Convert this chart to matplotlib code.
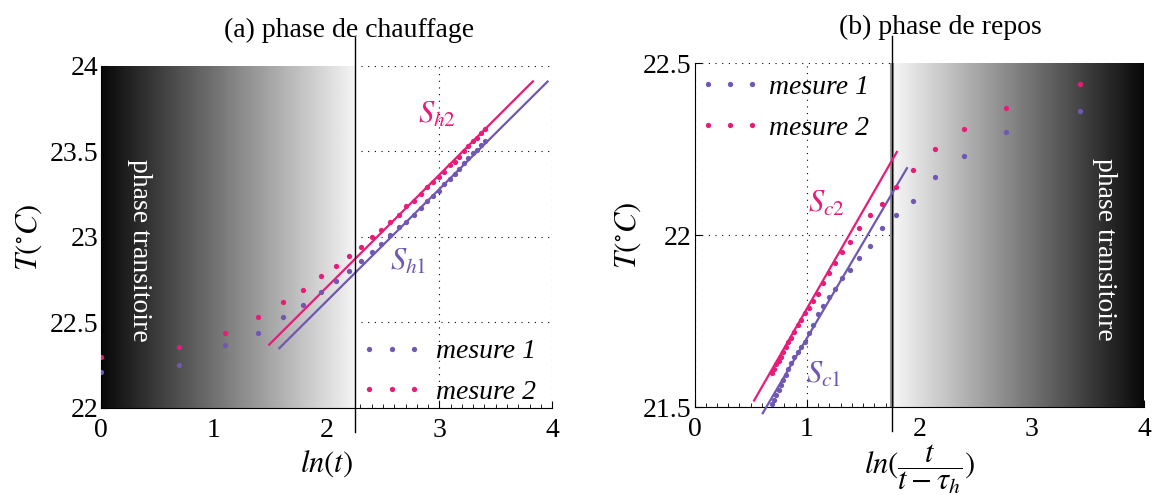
import numpy as np
import matplotlib
matplotlib.use('Agg')
import matplotlib.pyplot as plt

plt.rcParams['font.family'] = ['Liberation Serif', 'DejaVu Serif']
plt.rcParams['mathtext.fontset'] = 'stix'

# couleurs
c1 = '#6f57b3'  # mesure 1
c2 = '#e81c78'  # mesure 2

# (a) phase de chauffage : t = 1..30, abscisse ln(t)
t_chauffe = np.arange(1, 31)
T1_chauffe = [22.21, 22.25, 22.37, 22.44, 22.53, 22.60, 22.68, 22.74, 22.80,
              22.86, 22.91, 22.96, 23.01, 23.06, 23.09, 23.13, 23.17, 23.21,
              23.24, 23.27, 23.31, 23.34, 23.37, 23.40, 23.43, 23.46, 23.49,
              23.51, 23.54, 23.56]
T2_chauffe = [22.30, 22.355, 22.44, 22.53, 22.62, 22.69, 22.77, 22.83, 22.89,
              22.94, 23.00, 23.04, 23.09, 23.13, 23.18, 23.21, 23.25, 23.29,
              23.32, 23.35, 23.38, 23.42, 23.44, 23.47, 23.50, 23.53, 23.56,
              23.58, 23.61, 23.63]
# droites S_h1, S_h2 : (ordonnée à l'origine, pente, x début, x fin)
Sh1 = (21.315, 0.655, 1.58, 3.96)
Sh2 = (21.39, 0.658, 1.49, 3.83)
lim_a = 2.25  # fin de la phase transitoire

# (b) phase de repos : t - tau_h = 1..30, abscisse ln(t/(t-tau_h))
tau_h = 30
k_repos = np.arange(1, 31)
T1_repos = [22.36, 22.30, 22.23, 22.17, 22.10, 22.06, 22.02, 21.97, 21.935,
            21.90, 21.875, 21.845, 21.82, 21.795, 21.77, 21.74, 21.715, 21.69,
            21.675, 21.66, 21.645, 21.63, 21.61, 21.595, 21.58, 21.565, 21.55,
            21.535, 21.52, 21.51]
T2_repos = [22.44, 22.37, 22.31, 22.25, 22.19, 22.14, 22.09, 22.06, 22.02,
            21.98, 21.95, 21.92, 21.89, 21.86, 21.83, 21.81, 21.79, 21.775,
            21.755, 21.74, 21.72, 21.70, 21.69, 21.675, 21.66, 21.645, 21.635,
            21.625, 21.61, 21.60]
Sc1 = (21.146, 0.555, 0.607, 1.89)
Sc2 = (21.218, 0.569, 0.53, 1.80)
lim_b = 1.76

fs = 20

fig = plt.figure(figsize=(11.56, 4.95), dpi=100)
ax1 = fig.add_axes([0.0876, 0.1758, 0.390, 0.691])
ax2 = fig.add_axes([0.6008, 0.1772, 0.3889, 0.695])


def droite(ax, S, color):
    b, a, x0, x1 = S
    xs = np.array([x0, x1])
    ax.plot(xs, b + a * xs, color=color, lw=1.6, zorder=4, clip_on=False)


def habillage(ax, ylim, yticks, ylabels, lpad):
    ax.set_xlim(0, 4)
    ax.set_ylim(*ylim)
    ax.set_xticks([0, 1, 2, 3, 4])
    ax.set_xticks(np.arange(0, 4.01, 0.1), minor=True)
    ax.set_yticks(yticks)
    ax.set_yticklabels(ylabels)
    ax.tick_params(direction='in', labelsize=fs, length=5, pad=2)
    ax.tick_params(which='minor', direction='in', length=3)
    ax.tick_params(axis='x', pad=7)
    for s in ['top', 'right']:
        ax.spines[s].set_visible(False)
    ax.set_axisbelow(True)
    ax.grid(True, ls=(0, (1, 5)), color='k', lw=0.8)
    ax.set_ylabel(r'$T(^{\circ}C)$', fontsize=fs + 2, labelpad=lpad)


# ---- (a)
habillage(ax1, (22, 24), [22, 22.5, 23, 23.5, 24], ['22', '22.5', '23', '23.5', '24'], 4)
grad = np.linspace(0.03, 0.96, 256).reshape(1, -1)
ax1.imshow(grad, cmap='gray', vmin=0, vmax=1, aspect='auto',
           extent=[0, lim_a, 22, 24], zorder=1)
x_a = np.log(t_chauffe)
ax1.plot(x_a, T1_chauffe, 'o', ms=3.8, mew=0, color=c1, label='mesure 1', zorder=5)
ax1.plot(x_a, T2_chauffe, 'o', ms=3.8, mew=0, color=c2, label='mesure 2', zorder=5)
droite(ax1, Sh1, c1)
droite(ax1, Sh2, c2)
ax1.plot([lim_a, lim_a], [21.86, 24.17], color='k', lw=1, clip_on=False, zorder=6)
ax1.text(2.98, 23.71, r'$S_{h2}$', color=c2, fontsize=fs + 2, ha='center', va='center')
ax1.text(2.72, 22.85, r'$S_{h1}$', color=c1, fontsize=fs + 2, ha='center', va='center')
ax1.text(0.34, 22.92, 'phase transitoire', color='white', fontsize=fs, rotation=-90,
         ha='center', va='center', zorder=6)
ax1.set_xlabel(r'$ln(t)$', fontsize=fs + 2, labelpad=4)
ax1.text(0.549, 1.105, '(a) phase de chauffage', transform=ax1.transAxes,
         fontsize=fs, ha='center', va='center')
ax1.legend(loc='lower right', bbox_to_anchor=(1.02, -0.065), frameon=False, numpoints=3,
           handlelength=2.2, handletextpad=0.5, labelspacing=0.55,
           prop={'size': fs, 'style': 'italic'})

# ---- (b)
habillage(ax2, (21.5, 22.5), [21.5, 22, 22.5], ['21.5', '22', '22.5'], 0)
grad2 = np.linspace(0.97, 0.03, 256).reshape(1, -1)
ax2.imshow(grad2, cmap='gray', vmin=0, vmax=1, aspect='auto',
           extent=[lim_b, 4, 21.5, 22.5], zorder=1)
x_b = np.log((tau_h + k_repos) / k_repos)
ax2.plot(x_b, T1_repos, 'o', ms=3.8, mew=0, color=c1, label='mesure 1', zorder=5)
ax2.plot(x_b, T2_repos, 'o', ms=3.8, mew=0, color=c2, label='mesure 2', zorder=5)
droite(ax2, Sc1, c1)
droite(ax2, Sc2, c2)
ax2.plot([lim_b, lim_b], [21.5, 22.5], color='0.6', lw=3, zorder=2)
ax2.plot([lim_b, lim_b], [21.43, 22.58], color='k', lw=1, clip_on=False, zorder=2.5)
ax2.text(1.17, 22.09, r'$S_{c2}$', color=c2, fontsize=fs + 2, ha='center', va='center')
ax2.text(1.15, 21.594, r'$S_{c1}$', color=c1, fontsize=fs + 2, ha='center', va='center')
ax2.text(3.65, 21.96, 'phase transitoire', color='white', fontsize=fs, rotation=-90,
         ha='center', va='center', zorder=6)
ax2.set_xlabel(r'$ln(\dfrac{t}{t-\tau_h})$', fontsize=fs + 2, labelpad=0)
ax2.text(0.546, 1.105, '(b) phase de repos', transform=ax2.transAxes,
         fontsize=fs, ha='center', va='center')
ax2.legend(loc='upper left', bbox_to_anchor=(-0.045, 1.04), frameon=False, numpoints=3,
           handlelength=2.2, handletextpad=0.3, labelspacing=0.55,
           prop={'size': fs, 'style': 'italic'})

fig.savefig('out.png', dpi=100)
